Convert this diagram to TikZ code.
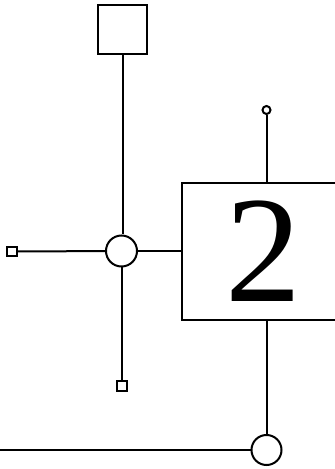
\documentclass[tikz,border=0pt]{standalone}
\usepackage{fontspec}
\setmainfont{Liberation Serif}
\usetikzlibrary{positioning,calc}

\begin{document}
\begin{tikzpicture}[
  x=1pt, y=1pt,
  line width=2pt,
  sqbox/.style={draw, rectangle, inner sep=0pt, minimum size=#1},
  port/.style={draw, circle, inner sep=0pt, minimum size=#1},
  bigbox/.style={draw, rectangle, inner sep=0pt, minimum width=163pt, minimum height=137pt, font=\fontsize{152}{152}\selectfont},
  wire/.style={line width=2pt},
]
  \clip (0,0) rectangle (335,469);
  \useasboundingbox (0,0) rectangle (335,469);

  % left group
  \node[sqbox=49pt, line width=2.6pt] (top) at (122.5,439.5) {};
  \node[port=31pt] (hub) at (121.5,218) {};
  \node[sqbox=9.5pt] (lsq) at (12,217.5) {};
  \node[sqbox=9.5pt] (bsq) at (122,83) {};

  % block 2
  \node[bigbox] (blk) at (263.5,217.5) {2};
  \node[port=8pt] (tpin) at (266.5,359) {};
  \node[port=30pt] (bpin) at (266.5,19) {};
  \coordinate (lend) at (0,19);

  % wires
  \draw[wire] (top.south) -- (top.south |- hub.north);
  \draw[wire] (lsq) -- (hub);
  \draw[wire] (hub.south) -- (bsq.north -| hub.south);
  \draw[wire] (hub) -- (hub -| blk.west);
  \draw[wire] (tpin) -- (blk.north -| tpin);
  \draw[wire] (blk.south -| bpin) -- (bpin);
  \draw[wire] (lend) -- (bpin);
\end{tikzpicture}
\end{document}
